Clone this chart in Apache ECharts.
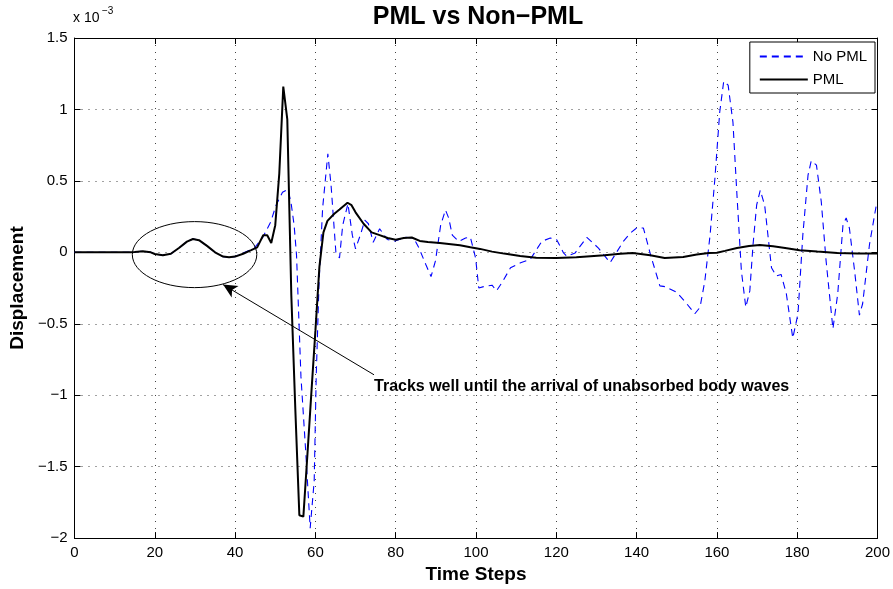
<!DOCTYPE html>
<html>
<head>
<meta charset="utf-8">
<script src="https://cdn.jsdelivr.net/npm/echarts@6/dist/echarts.min.js"></script>
<style>
html,body{margin:0;padding:0;background:#fff;}
#chart{width:893px;height:589px;}
</style>
</head>
<body>
<div id="chart"></div>
<script>
// ---- Data (displacement in units of 1e-3) ----
const pmlSteps = [0,10,14,15,17,19,20,22,24,26,28,29.5,31,33,35,37,38.5,40,42,44,45.5,47,48,49,50,51,52,53,54,55,56,57,58,59,60,61,62,63,64.7,66,68,69,70,72,74,76,78,80,82,84,86,88,91,96,98.6,101,104,107,111,115,120,125,132,136,139,141,143.4,147,151.6,155,158,160,162,165,168,170.7,174,177,180.6,185,190,195,200];
const pmlValues = [0,0,0,0.002,0.008,0,-0.012,-0.02,-0.01,0.03,0.075,0.093,0.085,0.045,0,-0.03,-0.035,-0.03,-0.01,0.015,0.035,0.12,0.12,0.065,0.19,0.55,1.16,0.93,-0.3,-1.1,-1.84,-1.85,-1.42,-0.98,-0.55,-0.1,0.14,0.22,0.27,0.3,0.347,0.33,0.28,0.2,0.14,0.12,0.1,0.088,0.1,0.104,0.08,0.072,0.065,0.049,0.035,0.024,0.005,-0.009,-0.025,-0.038,-0.04,-0.035,-0.02,-0.01,-0.004,-0.011,-0.02,-0.039,-0.032,-0.015,-0.004,-0.003,0.01,0.03,0.045,0.051,0.042,0.03,0.015,0.005,-0.004,-0.008,-0.009];

const noPmlSteps = [0,10,14,15,17,19,20,22,24,26,28,29.5,31,33,35,37,38.5,40,42,44.8,47,48.9,50.2,51.8,53.1,53.9,54.7,55.3,56.4,57.6,58.7,59.7,60.2,60.9,61.8,63.1,63.9,65.1,66,66.8,68.1,69.2,70,71.3,72.3,73.2,74.4,76,77.9,79.6,82.5,84.5,85.8,87.5,88.8,89.9,91.2,92.4,93.2,94.1,95.7,97.4,98.6,99.9,100.7,101.9,104,105.1,106.5,108.6,111.1,113.5,116.4,118.5,120.1,121.8,122.6,124.7,127.6,130.5,131.8,133.4,136.7,138.4,140,141.7,143.5,145.8,147.1,150,152.5,154.5,155.8,157,158.3,159.5,160.7,161.7,162.8,164,165,166.1,167.2,168.2,169,169.9,170.8,171.9,173.6,174.8,176,177.3,178.9,180.2,181.4,182.7,183.5,184.8,186,187.2,188.9,190.1,191.4,192.2,193,194.3,195.5,196.3,198,199.7,200];
const noPmlValues = [0,0,0,0.002,0.008,0,-0.012,-0.02,-0.01,0.03,0.075,0.093,0.085,0.045,0,-0.03,-0.035,-0.03,-0.005,0.03,0.11,0.215,0.33,0.42,0.44,0.354,0.19,-0.02,-0.87,-1.4,-1.93,-1.6,-0.87,-0.22,0.31,0.69,0.47,0,-0.04,0.19,0.34,0.12,0.025,0.13,0.225,0.2,0.07,0.165,0.09,0.077,0.105,0.1,0.03,-0.085,-0.17,-0.06,0.19,0.296,0.24,0.12,0.077,0.1,0.105,-0.04,-0.25,-0.24,-0.23,-0.27,-0.21,-0.108,-0.073,-0.05,0.077,0.1,0.088,-0.004,-0.027,-0.004,0.105,0.03,-0.016,-0.073,0.077,0.134,0.17,0.17,-0.02,-0.235,-0.24,-0.28,-0.36,-0.43,-0.385,-0.2,0.12,0.515,0.98,1.197,1.17,0.91,0.4,-0.13,-0.385,-0.27,0.053,0.33,0.435,0.33,-0.108,-0.166,-0.155,-0.29,-0.6,-0.43,0.12,0.54,0.64,0.61,0.354,-0.06,-0.535,-0.29,0.19,0.24,0.17,-0.13,-0.44,-0.36,0.053,0.33,0.35];

const xTicks = [0,20,40,60,80,100,120,140,160,180,200];
const yTickLabels = {'1.5':'1.5','1':'1','0.5':'0.5','0':'0','-0.5':'\u22120.5','-1':'\u22121','-1.5':'\u22121.5','-2':'\u22122'};

const seriesNames = ['No PML', 'PML'];
const titleText = 'PML vs Non\u2212PML';
const annotationText = 'Tracks well until the arrival of unabsorbed body waves';

const zip = (xs, ys) => xs.map((x, i) => [x, ys[i]]);

const chart = echarts.init(document.getElementById('chart'), null, {renderer: 'canvas'});
const FONT = 'Liberation Sans, Arial, Helvetica, sans-serif';

const gridLine = {show: true, lineStyle: {color: '#444', type: [1, 6], width: 1}};

const option = {
  animation: false,
  backgroundColor: '#fff',
  textStyle: {fontFamily: FONT},
  title: {
    text: titleText,
    left: 473, top: 0, textAlign: 'center',
    textStyle: {fontSize: 25, fontWeight: 'bold', color: '#000', fontFamily: FONT}
  },
  grid: {left: 73, right: 15, top: 38, bottom: 46, containLabel: false},
  legend: {
    orient: 'vertical', right: 18, top: 42,
    itemWidth: 48, itemHeight: 14, itemGap: 8,
    padding: [7, 8, 6, 9],
    borderColor: '#000', borderWidth: 1, backgroundColor: '#fff',
    itemStyle: {opacity: 0},
    textStyle: {fontSize: 15, color: '#000', fontFamily: FONT},
    data: seriesNames
  },
  xAxis: [{
    type: 'value', min: 0, max: 200, interval: 20,
    name: 'Time Steps', nameLocation: 'middle', nameGap: 25,
    nameTextStyle: {fontSize: 19, fontWeight: 'bold', color: '#000', fontFamily: FONT},
    axisLine: {show: true, onZero: false, lineStyle: {color: '#000', width: 1}},
    axisTick: {show: true, inside: true, length: 6, lineStyle: {color: '#000'}},
    axisLabel: {fontSize: 15, color: '#000', margin: 7, fontFamily: FONT},
    splitLine: gridLine
  }, {
    type: 'value', min: 0, max: 200, interval: 20, position: 'top',
    axisLine: {show: true, onZero: false, lineStyle: {color: '#000', width: 1}},
    axisTick: {show: true, inside: true, length: 6, lineStyle: {color: '#000'}},
    axisLabel: {show: false}, splitLine: {show: false}
  }],
  yAxis: [{
    type: 'value', min: -2, max: 1.5, interval: 0.5,
    name: 'Displacement', nameLocation: 'middle', nameGap: 45,
    nameTextStyle: {fontSize: 19, fontWeight: 'bold', color: '#000', fontFamily: FONT},
    axisLine: {show: true, onZero: false, lineStyle: {color: '#000', width: 1}},
    axisTick: {show: true, inside: true, length: 6, lineStyle: {color: '#000'}},
    axisLabel: {fontSize: 15, color: '#000', margin: 7, fontFamily: FONT,
      formatter: v => yTickLabels[String(+v.toFixed(2))] ?? String(v)},
    splitLine: gridLine
  }, {
    type: 'value', min: -2, max: 1.5, interval: 0.5, position: 'right',
    axisLine: {show: true, onZero: false, lineStyle: {color: '#000', width: 1}},
    axisTick: {show: true, inside: true, length: 6, lineStyle: {color: '#000'}},
    axisLabel: {show: false}, splitLine: {show: false}
  }],
  series: [{
    name: seriesNames[0], type: 'line', showSymbol: false, symbol: 'none',
    data: zip(noPmlSteps, noPmlValues),
    lineStyle: {color: '#0000ff', width: 1.1, type: [7, 5]},
    itemStyle: {color: '#0000ff'},
    z: 3
  }, {
    name: seriesNames[1], type: 'line', showSymbol: false, symbol: 'none',
    data: zip(pmlSteps, pmlValues),
    lineStyle: {color: '#000', width: 2},
    itemStyle: {color: '#000'},
    z: 4,
    markLine: {
      silent: true, animation: false,
      symbol: ['none', 'arrow'], symbolSize: [10, 14],
      lineStyle: {color: '#000', width: 1, type: 'solid'},
      label: {show: false},
      data: [[{coord: [74.6, -0.857]}, {coord: [37.0, -0.226]}]]
    }
  }]
};
chart.setOption(option);

// Annotations placed via the axes' own scales
const c = chart.convertToPixel({gridIndex: 0}, [29.9, -0.016]);
const ex = chart.convertToPixel({gridIndex: 0}, [29.9 + 15.5, -0.016]);
const ey = chart.convertToPixel({gridIndex: 0}, [29.9, -0.016 + 0.231]);
const tp = chart.convertToPixel({gridIndex: 0}, [74.6, -0.94]);
chart.setOption({
  graphic: [
    {type: 'ellipse', shape: {cx: c[0], cy: c[1], rx: ex[0] - c[0], ry: c[1] - ey[1]},
     style: {fill: 'none', stroke: '#000', lineWidth: 1}, z: 10},
    {type: 'text', x: tp[0], y: tp[1],
     style: {text: annotationText, fontSize: 16, fontWeight: 'bold', fill: '#000',
             fontFamily: FONT, textAlign: 'left', textVerticalAlign: 'middle'}, z: 10},
    {type: 'text', left: 73, top: 11,
     style: {text: 'x 10', fontSize: 14, fill: '#000', fontFamily: FONT}},
    {type: 'text', left: 102, top: 6,
     style: {text: '\u22123', fontSize: 10, fill: '#000', fontFamily: FONT}}
  ]
});
</script>
</body>
</html>
